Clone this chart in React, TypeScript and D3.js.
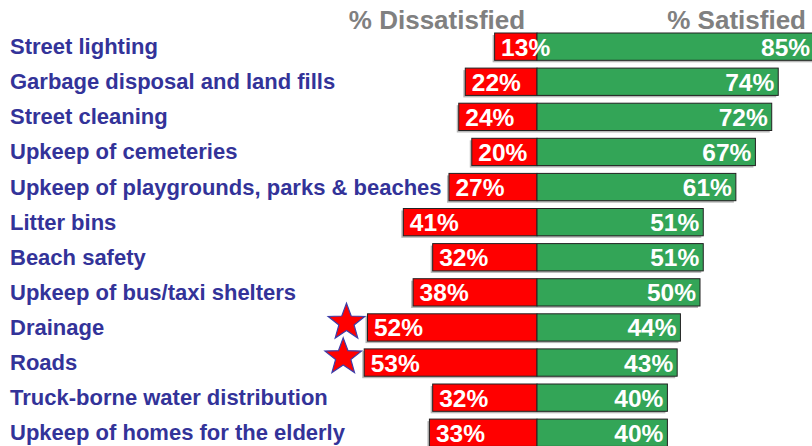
import React from "react";
import * as d3 from "d3";

const categories = [
  "Street lighting",
  "Garbage disposal and land fills",
  "Street cleaning",
  "Upkeep of cemeteries",
  "Upkeep of playgrounds, parks & beaches",
  "Litter bins",
  "Beach safety",
  "Upkeep of bus/taxi shelters",
  "Drainage",
  "Roads",
  "Truck-borne water distribution",
  "Upkeep of homes for the elderly",
];
const dissatisfied = [13, 22, 24, 20, 27, 41, 32, 38, 52, 53, 32, 33];
const satisfied = [85, 74, 72, 67, 61, 51, 51, 50, 44, 43, 40, 40];
const starred = ["Drainage", "Roads"];
const headers = ["% Dissatisfied", "% Satisfied"];

const W = 812;
const H = 446;
const RED = "#ff0000";
const GREEN = "#33a557";
const LABEL = "#333399";
const FONT = "'Liberation Sans', Arial, sans-serif";

function starPath(cx: number, cy: number, R: number, r: number) {
  const pts: [number, number][] = [];
  for (let i = 0; i < 10; i++) {
    const a = -Math.PI / 2 + (i * Math.PI) / 5;
    const rad = i % 2 === 0 ? R : r;
    pts.push([cx + rad * Math.cos(a), cy + rad * Math.sin(a)]);
  }
  return d3.line()(pts) + "Z";
}

export default function App() {
  const zero = 537;
  const x = d3.scaleLinear().domain([0, 100]).range([zero, zero + 326]);
  const xl = (v: number) => zero - (x(v) - zero);
  const step = 35.1;
  const bh = 27.3;
  const yTop = d3
    .scaleLinear()
    .domain([0, categories.length - 1])
    .range([33, 33 + step * (categories.length - 1)]);

  return (
    <svg
      width={W}
      height={H}
      style={{ position: "absolute", left: 0, top: 0, display: "block", background: "#fff" }}
      fontFamily={FONT}
    >
      <text x={437} y={29} textAnchor="middle" fontSize={26} fontWeight="bold" fill="#808080">
        {headers[0]}
      </text>
      <text x={806} y={29} textAnchor="end" fontSize={26} fontWeight="bold" fill="#808080">
        {headers[1]}
      </text>
      {categories.map((c, i) => {
        const top = yTop(i);
        const cy = top + bh / 2;
        const x0 = xl(dissatisfied[i]);
        const x1 = x(satisfied[i]);
        return (
          <g key={c}>
            <text x={10} y={cy + 7.5} fontSize={22} fontWeight="bold" fill={LABEL}>
              {c}
            </text>
            <rect x={x0 - 2} y={top + 2} width={x1 - x0} height={bh} fill="#9a9a9a" opacity={0.7} />
            <rect x={x0} y={top} width={zero - x0} height={bh} fill={RED} stroke="#222" strokeWidth={1} />
            <rect x={zero} y={top} width={x1 - zero} height={bh} fill={GREEN} stroke="#222" strokeWidth={1} />
            <text x={x0 + 6.5} y={cy + 9} fontSize={24.5} fontWeight="bold" fill="#fff">
              {dissatisfied[i]}%
            </text>
            <text x={x1 - 4} y={cy + 9} textAnchor="end" fontSize={24.5} fontWeight="bold" fill="#fff">
              {satisfied[i]}%
            </text>
            {starred.includes(c) && (
              <path
                d={starPath(x0 - 21, cy - 5 - (c === "Roads" ? 0.5 : 0), 19.2, 8)}
                fill={RED}
                stroke="#3d3da8"
                strokeWidth={1.2}
              />
            )}
          </g>
        );
      })}
    </svg>
  );
}
